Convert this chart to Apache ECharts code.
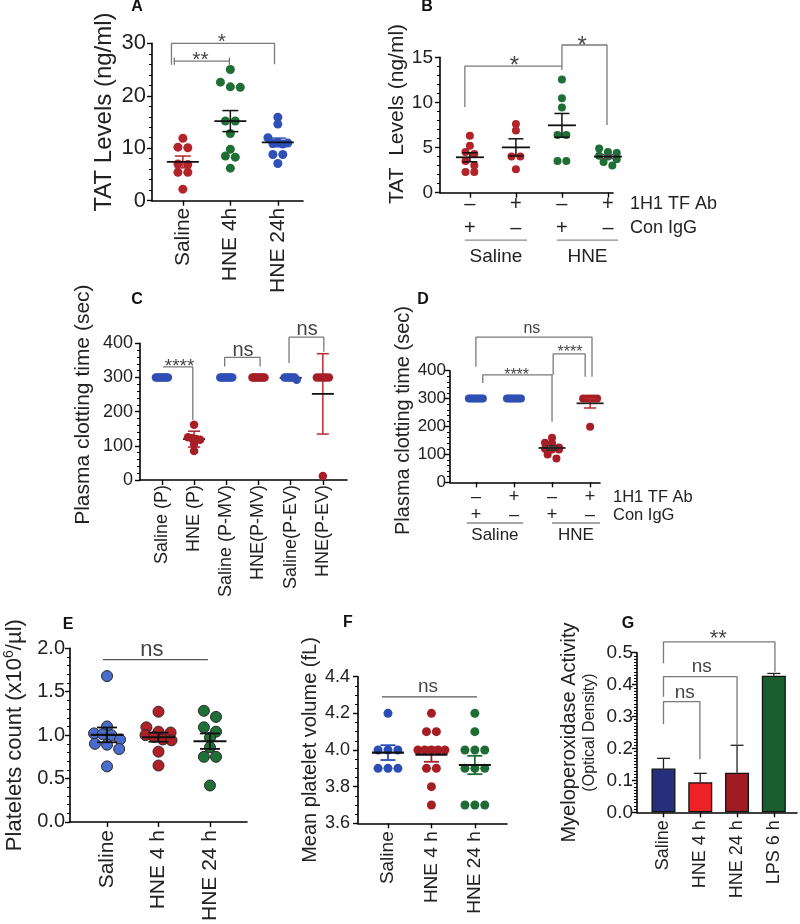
<!DOCTYPE html>
<html><head><meta charset="utf-8">
<script src="https://cdn.jsdelivr.net/npm/echarts@6/dist/echarts.min.js"></script>
<style>html,body{margin:0;padding:0;background:#fff}#c{width:800px;height:924px}</style>
</head><body><div id="c"></div>
<script>
// ---------------- DATA ----------------
const catsA = ['Saline', 'HNE 4h', 'HNE 24h'];
const tatA_saline = [11.9, 10.2, 10.1, 7.0, 6.9, 5.4, 5.4, 2.2];
const tatA_hne4h = [25.0, 22.6, 21.7, 21.6, 15.2, 15.2, 12.8, 9.8, 8.5, 8.3, 6.2];
const tatA_hne24h = [15.9, 14.6, 12.0, 11.1, 11.0, 10.9, 10.8, 8.8, 8.8, 7.1];

const abRow = ['–', '+', '–', '+'];
const igRow = ['+', '–', '+', '–'];
const rowNames = ['1H1 TF Ab', 'Con IgG'];
const groupNames = ['Saline', 'HNE'];
const tatB_salIgG = [6.3, 5.2, 4.5, 4.3, 3.5, 3.0, 2.3, 2.3];
const tatB_salAb = [7.6, 6.9, 4.0, 4.0, 2.6];
const tatB_hneIgG = [12.55, 10.45, 9.45, 6.4, 6.4, 3.5, 3.5];
const tatB_hneAb = [4.9, 4.5, 4.4, 4.1, 4.0, 3.7, 3.4, 3.0];

const catsC = ['Saline (P)', 'HNE (P)', 'Saline (P-MV)', 'HNE(P-MV)', 'Saline(P-EV)', 'HNE(P-EV)'];
const clotC_salP = [300, 300, 300, 300, 300, 300, 300, 300];
const clotC_hneP = [162, 125, 122, 120, 118, 105, 85];
const clotC_salMV = [300, 300, 300, 300, 300, 300, 300, 300];
const clotC_hneMV = [300, 300, 300, 300, 300, 300, 300, 300];
const clotC_salEV = [300, 300, 300, 300, 300, 300, 293];
const clotC_hneEV = [300, 300, 300, 300, 300, 12];

const clotD_salIgG = [300, 300, 300, 300, 300, 300, 300, 300];
const clotD_salAb = [300, 300, 300, 300, 300, 300, 300, 300];
const clotD_hneIgG = [160, 142, 140, 125, 120, 118, 118, 100, 85];
const clotD_hneAb = [300, 300, 300, 300, 300, 199];

const catsE = ['Saline', 'HNE 4 h', 'HNE 24 h'];
const pltE_saline = [1.68, 1.10, 1.02, 1.01, 1.00, 0.95, 0.90, 0.89, 0.84, 0.64];
const pltE_hne4h = [1.27, 1.09, 1.04, 1.03, 1.00, 0.98, 0.95, 0.94, 0.81, 0.65];
const pltE_hne24h = [1.28, 1.21, 1.09, 1.04, 0.97, 0.86, 0.75, 0.75, 0.42];

const catsF = ['Saline', 'HNE 4 h', 'HNE 24 h'];
const mpvF_saline = [4.2, 4.0, 4.0, 4.0, 3.9, 3.9, 3.9];
const mpvF_hne4h = [4.2, 4.1, 4.1, 4.0, 4.0, 4.0, 4.0, 4.0, 3.9, 3.9, 3.8, 3.7];
const mpvF_hne24h = [4.2, 4.1, 4.0, 4.0, 4.0, 3.9, 3.9, 3.9, 3.7, 3.7, 3.7];

const catsG = ['Saline', 'HNE 4 h', 'HNE 24 h', 'LPS 6 h'];
const mpoG = [0.137, 0.094, 0.124, 0.428];
const mpoErrG = [0.032, 0.028, 0.086, 0.007];

// significance annotations (data coordinates)
const sigA = [
  {path: [[-0.18, 25.9], [-0.18, 27.3], [-0.18, 26.6], [0.98, 26.6], [0.98, 27.3], [0.98, 25.9]], text: '**', tx: 0.37, ty: 27.9},
  {path: [[-0.24, 25.9], [-0.24, 30], [1.93, 30], [1.93, 26.0]], text: '*', tx: 0.82, ty: 31.3}
];
const sigB = [
  {path: [[-0.11, 9.5], [-0.11, 14.03], [2.0, 14.03], [2.0, 13.6]], text: '*', tx: 0.97, ty: 14.7},
  {path: [[2.0, 14.03], [2.0, 16.36], [2.98, 16.36], [2.98, 7.5]], text: '*', tx: 2.44, ty: 17.0}
];
const sigC = [
  {path: [[0.03, 331], [0.96, 331], [0.96, 176]], text: '****', tx: 0.55, ty: 346},
  {path: [[1.95, 332], [1.95, 359], [3.05, 359], [3.05, 332]], text: 'ns', tx: 2.52, ty: 380},
  {path: [[3.95, 342], [3.95, 418], [5.03, 418], [5.03, 375]], text: 'ns', tx: 4.51, ty: 439}
];
const sigD = [
  {path: [[0, 414], [0, 520], [3.05, 520], [3.05, 378]], text: 'ns', tx: 1.47, ty: 552},
  {path: [[0.18, 356], [0.18, 385], [2.0, 385], [2.0, 217]], text: '****', tx: 1.07, ty: 400},
  {path: [[2.03, 385], [2.03, 460], [2.87, 460], [2.87, 378]], text: '****', tx: 2.47, ty: 480}
];
const sigE = [{path: [[-0.08, 1.87], [1.96, 1.87]], text: 'ns', tx: 0.87, ty: 1.98}];
const sigF = [{path: [[-0.14, 4.29], [2.05, 4.29]], text: 'ns', tx: 0.92, ty: 4.345}];
const sigG = [
  {path: [[0, 0.276], [0, 0.347], [0.99, 0.347], [0.99, 0.166]], text: 'ns', tx: 0.58, ty: 0.375},
  {path: [[0, 0.362], [0, 0.425], [2.0, 0.425], [2.0, 0.211]], text: 'ns', tx: 1.04, ty: 0.456},
  {path: [[0, 0.467], [0, 0.534], [3.03, 0.534], [3.03, 0.44]], text: '**', tx: 1.49, ty: 0.561}
];

// ---------------- LAYOUT / STYLE ----------------
const FONT = '"Liberation Sans", Arial, sans-serif';
const L = {
  A: {i: 0, left: 152, top: 43.3, width: 151, height: 157.4, xmin: -0.65, xmax: 2.53, ymin: 0, ymax: 30, interval: 10, minor: 5},
  B: {i: 1, left: 440, top: 57.3, width: 173, height: 135.4, xmin: -0.65, xmax: 3.11, ymin: 0, ymax: 15, interval: 5, minor: 5},
  C: {i: 2, left: 140, top: 343.3, width: 207, height: 136.7, xmin: -0.68, xmax: 5.75, ymin: 0, ymax: 400, interval: 100, minor: 5},
  D: {i: 3, left: 450, top: 370.7, width: 150, height: 111.6, xmin: -0.68, xmax: 3.26, ymin: 0, ymax: 400, interval: 100, minor: 5},
  E: {i: 4, left: 70, top: 648.3, width: 177, height: 175, xmin: -0.72, xmax: 2.72, ymin: 0, ymax: 2, interval: 0.5, minor: 5},
  F: {i: 5, left: 358, top: 676.7, width: 149, height: 146.6, xmin: -0.69, xmax: 2.74, ymin: 3.6, ymax: 4.4, interval: 0.2, minor: 4},
  G: {i: 6, left: 637, top: 652.7, width: 160, height: 159.6, xmin: -0.72, xmax: 3.63, ymin: 0, ymax: 0.5, interval: 0.1, minor: 10}
};
function pxX(k) { return L[k].width / (L[k].xmax - L[k].xmin); }
function pxY(k) { return L[k].height / (L[k].ymax - L[k].ymin); }
function toPx(k, x) { return L[k].left + (x - L[k].xmin) * pxX(k); }
function toPy(k, y) { return L[k].top + (L[k].ymax - y) * pxY(k); }

const grids = [], xAxes = [], yAxes = [], S = [], G = [];

function axes(k, o) {
  const c = L[k];
  grids.push({left: c.left, top: c.top, width: c.width, height: c.height, containLabel: false});
  const idx = o.nCat ? Array.from({length: o.nCat}, (_, j) => j) : [];
  xAxes.push({
    type: 'value', gridIndex: c.i, min: c.xmin, max: c.xmax,
    axisLine: {show: true, onZero: false, lineStyle: {color: '#000', width: 1.6}},
    axisTick: {show: true, customValues: idx, length: 5, lineStyle: {color: '#000', width: 1.4}},
    axisLabel: Object.assign({show: true, customValues: idx, color: '#222', fontFamily: FONT}, o.xLabel),
    splitLine: {show: false}, minorTick: {show: false}
  });
  yAxes.push({
    type: 'value', gridIndex: c.i, min: c.ymin, max: c.ymax, interval: c.interval,
    axisLine: {show: true, onZero: false, lineStyle: {color: '#000', width: 1.6}},
    axisTick: {show: true, length: 5, lineStyle: {color: '#000', width: 1.4}},
    minorTick: {show: true, splitNumber: c.minor, length: 3, lineStyle: {color: '#000', width: 1}},
    axisLabel: {fontSize: o.yFont, margin: o.yMargin, color: '#222', fontFamily: FONT,
      formatter: o.yFmt || (v => String(v))},
    splitLine: {show: false}, minorSplitLine: {show: false},
    name: o.name, nameLocation: 'middle', nameRotate: 90, nameGap: o.nameGap,
    nameTextStyle: Object.assign({fontSize: o.nameFont, color: '#222', fontFamily: FONT,
      padding: [0, 0, 0, (o.nameShift || 0) * 2]}, o.nameExtra || {})
  });
}

function swarm(vals, py, px, diam, maxSpan) {
  const order = vals.map((v, i) => i).sort((a, b) => vals[b] - vals[a]);
  const rows = []; let cur = null;
  order.forEach(i => {
    if (cur && Math.abs(vals[cur[0]] - vals[i]) * py < diam * 0.6) cur.push(i);
    else { cur = [i]; rows.push(cur); }
  });
  const off = new Array(vals.length).fill(0);
  rows.forEach(r => {
    const n = r.length;
    const sp = n > 1 ? Math.min(diam * 1.1, maxSpan / (n - 1)) : 0;
    r.forEach((i, j) => { off[i] = (j - (n - 1) / 2) * sp / px; });
  });
  return off;
}

function dots(k, groups, o) {
  groups.forEach((g, gi) => {
    const offs = swarm(g.vals, pxY(k), pxX(k), o.size, o.maxSpan);
    S.push({
      type: 'scatter', xAxisIndex: L[k].i, yAxisIndex: L[k].i, symbolSize: o.size, z: 3, clip: false,
      silent: true, animation: false,
      itemStyle: {color: g.color, opacity: 1, borderColor: o.border || g.color, borderWidth: o.border ? 1 : 0},
      data: g.vals.map((v, j) => [gi + offs[j], v])
    });
  });
  // mean and error bars
  const rowsData = [], errCols = [];
  groups.forEach((g, gi) => {
    const n = g.vals.length;
    const m = g.vals.reduce((a, b) => a + b, 0) / n;
    const sd = Math.sqrt(g.vals.reduce((a, b) => a + (b - m) * (b - m), 0) / (n - 1));
    if (sd === 0) return;
    const e = o.useSD ? sd : sd / Math.sqrt(n);
    rowsData.push([gi, m, m - e, m + e]);
    errCols.push(g.err);
  });
  S.push({
    type: 'custom', xAxisIndex: L[k].i, yAxisIndex: L[k].i, z: o.meanBelow ? 2 : 5, silent: true, animation: false,
    data: rowsData,
    renderItem: (params, api) => {
      const x = api.value(0);
      const pm = api.coord([x, api.value(1)]);
      const pl = api.coord([x, api.value(2)]);
      const ph = api.coord([x, api.value(3)]);
      const ec = errCols[params.dataIndex];
      const lw = o.lw || 1.5;
      return {type: 'group', children: [
        {type: 'line', shape: {x1: pl[0], y1: pl[1], x2: ph[0], y2: ph[1]}, style: {stroke: ec, lineWidth: lw}},
        {type: 'line', shape: {x1: pl[0] - o.capW / 2, y1: pl[1], x2: pl[0] + o.capW / 2, y2: pl[1]}, style: {stroke: ec, lineWidth: lw}},
        {type: 'line', shape: {x1: ph[0] - o.capW / 2, y1: ph[1], x2: ph[0] + o.capW / 2, y2: ph[1]}, style: {stroke: ec, lineWidth: lw}},
        {type: 'line', shape: {x1: pm[0] - o.meanW / 2, y1: pm[1], x2: pm[0] + o.meanW / 2, y2: pm[1]}, style: {stroke: o.meanColor || '#111', lineWidth: lw + 0.3}}
      ]};
    }
  });
}

function sig(k, list, o) {
  list.forEach(b => {
    S.push({type: 'line', xAxisIndex: L[k].i, yAxisIndex: L[k].i, data: b.path, symbol: 'none', clip: false,
      silent: true, animation: false, z: 2, lineStyle: {color: o.color || '#7a7a7a', width: o.width || 1.3}});
    const star = b.text.indexOf('*') >= 0;
    const fs = star ? o.starFont : o.nsFont;
    S.push({type: 'scatter', xAxisIndex: L[k].i, yAxisIndex: L[k].i, symbolSize: 1, clip: false, silent: true,
      animation: false, z: 6, itemStyle: {color: 'rgba(0,0,0,0)'}, data: [[b.tx, b.ty]],
      label: {show: true, position: 'inside', formatter: b.text, fontSize: fs, fontFamily: FONT, color: '#111',
        offset: [0, star ? fs * 0.28 : 0]}});
  });
}

const catFmt = cats => (v => cats[Math.round(v)]);

// ---- Panel A ----
axes('A', {nCat: 3, xLabel: {formatter: catFmt(catsA), rotate: 90, margin: 7, fontSize: 21},
  yFont: 22, yMargin: 6, name: 'TAT Levels (ng/ml)', nameFont: 24, nameGap: 36, nameShift: 10});
dots('A', [
  {vals: tatA_saline, color: '#b3242a', err: '#b3242a'},
  {vals: tatA_hne4h, color: '#1f6e35', err: '#111'},
  {vals: tatA_hne24h, color: '#2f50b8', err: '#2f50b8'}
], {size: 9, maxSpan: 30, meanW: 32, capW: 16});
sig('A', sigA, {starFont: 21, nsFont: 18});

// ---- Panel B ----
axes('B', {nCat: 4, xLabel: {formatter: v => `{r|${abRow[Math.round(v)]}}\n{r|${igRow[Math.round(v)]}}`,
    margin: 0, rich: {r: {fontSize: 20, lineHeight: 24, fontFamily: FONT, color: '#222'}}},
  yFont: 19, yMargin: 7, name: 'TAT  Levels (ng/ml)', nameFont: 21, nameGap: 31, nameShift: 11});
dots('B', [
  {vals: tatB_salIgG, color: '#b3242a', err: '#111'},
  {vals: tatB_salAb, color: '#b3242a', err: '#111'},
  {vals: tatB_hneIgG, color: '#1f6e35', err: '#111'},
  {vals: tatB_hneAb, color: '#1f6e35', err: '#555'}
], {size: 8, maxSpan: 26, meanW: 28, capW: 15});
sig('B', sigB, {starFont: 24, nsFont: 18});

// ---- Panel C ----
axes('C', {nCat: 6, xLabel: {formatter: catFmt(catsC), rotate: 90, margin: 5, fontSize: 18},
  yFont: 18, yMargin: 7, name: 'Plasma clotting time (sec)', nameFont: 21, nameGap: 46, nameShift: 7});
dots('C', [
  {vals: clotC_salP, color: '#2f4fb5', err: '#2f4fb5'},
  {vals: clotC_hneP, color: '#a81e26', err: '#a81e26'},
  {vals: clotC_salMV, color: '#2f4fb5', err: '#2f4fb5'},
  {vals: clotC_hneMV, color: '#a81e26', err: '#a81e26'},
  {vals: clotC_salEV, color: '#2f4fb5', err: '#2f4fb5'},
  {vals: clotC_hneEV, color: '#a81e26', err: '#c0272d'}
], {size: 8.5, maxSpan: 12, meanW: 22, capW: 12, useSD: true, meanBelow: true});
sig('C', sigC, {starFont: 19, nsFont: 20});

// ---- Panel D ----
axes('D', {nCat: 4, xLabel: {formatter: v => `{r|${abRow[Math.round(v)]}}\n{r|${igRow[Math.round(v)]}}`,
    margin: 5.5, rich: {r: {fontSize: 18, lineHeight: 18, fontFamily: FONT, color: '#222'}}},
  yFont: 17, yMargin: 4, name: 'Plasma clotting time (sec)', nameFont: 20, nameGap: 36, nameShift: 6});
dots('D', [
  {vals: clotD_salIgG, color: '#2f4fb5', err: '#2f4fb5'},
  {vals: clotD_salAb, color: '#2f4fb5', err: '#2f4fb5'},
  {vals: clotD_hneIgG, color: '#a81e26', err: '#333'},
  {vals: clotD_hneAb, color: '#a81e26', err: '#c0272d'}
], {size: 8, maxSpan: 14, meanW: 27, capW: 12, meanColor: '#222'});
sig('D', sigD, {starFont: 16, nsFont: 16});

// ---- Panel E ----
axes('E', {nCat: 3, xLabel: {formatter: catFmt(catsE), rotate: 90, margin: 8, fontSize: 21},
  yFont: 20, yMargin: 5, yFmt: v => v.toFixed(1),
  name: '{b|Platelets count (x10}{s|6}{b|/µl)}', nameFont: 22, nameGap: 42, nameShift: 0,
  nameExtra: {rich: {b: {fontSize: 22, fontFamily: FONT, color: '#222', lineHeight: 26},
                     s: {fontSize: 14, fontFamily: FONT, color: '#222', verticalAlign: 'top', lineHeight: 14}}}});
dots('E', [
  {vals: pltE_saline, color: '#4a6ccc', err: '#111'},
  {vals: pltE_hne4h, color: '#b02028', err: '#111'},
  {vals: pltE_hne24h, color: '#1f7037', err: '#111'}
], {size: 11, maxSpan: 26, meanW: 33, capW: 20, border: '#2a2a2a', lw: 1.8});
sig('E', sigE, {starFont: 20, nsFont: 22, color: '#555'});

// ---- Panel F ----
axes('F', {nCat: 3, xLabel: {formatter: catFmt(catsF), rotate: 90, margin: 8, fontSize: 19},
  yFont: 18, yMargin: 8, yFmt: v => v.toFixed(1), name: 'Mean platelet volume (fL)', nameFont: 20, nameGap: 38});
dots('F', [
  {vals: mpvF_saline, color: '#2c4db5', err: '#2c4db5'},
  {vals: mpvF_hne4h, color: '#a51d25', err: '#a51d25'},
  {vals: mpvF_hne24h, color: '#1f6b35', err: '#1f6b35'}
], {size: 9, maxSpan: 27, meanW: 32, capW: 15, lw: 1.8});
sig('F', sigF, {starFont: 19, nsFont: 19, color: '#555'});

// ---- Panel G ----
axes('G', {nCat: 4, xLabel: {formatter: catFmt(catsG), rotate: 90, margin: 8, fontSize: 18},
  yFont: 19, yMargin: 4, yFmt: v => v.toFixed(1),
  name: '{a|Myeloperoxidase Activity}\n{b|(Optical Density)}', nameFont: 20, nameGap: 37,
  nameExtra: {rich: {a: {fontSize: 20, lineHeight: 21, fontFamily: FONT, color: '#222'},
                     b: {fontSize: 16, lineHeight: 20, fontFamily: FONT, color: '#222'}}}});
const gColors = ['#262f7d', '#ec2227', '#a01c24', '#1b5e2e'];
S.push({
  type: 'bar', xAxisIndex: 6, yAxisIndex: 6, barWidth: 24, animation: false, silent: true, z: 3,
  data: mpoG.map((v, j) => ({value: [j, v], itemStyle: {color: gColors[j], borderColor: '#111', borderWidth: 1.3}}))
});
S.push({
  type: 'custom', xAxisIndex: 6, yAxisIndex: 6, z: 2, silent: true, animation: false,
  data: mpoG.map((v, j) => [j, v, v + mpoErrG[j]]),
  renderItem: (params, api) => {
    const p0 = api.coord([api.value(0), api.value(1)]);
    const p1 = api.coord([api.value(0), api.value(2)]);
    return {type: 'group', children: [
      {type: 'line', shape: {x1: p0[0], y1: p0[1], x2: p1[0], y2: p1[1]}, style: {stroke: '#222', lineWidth: 1.3}},
      {type: 'line', shape: {x1: p1[0] - 6.5, y1: p1[1], x2: p1[0] + 6.5, y2: p1[1]}, style: {stroke: '#222', lineWidth: 1.3}}
    ]};
  }
});
sig('G', sigG, {starFont: 22, nsFont: 19});

// ---------------- graphic annotations ----------------
const letters = [['A', 137, 7], ['B', 427, 7], ['C', 137, 300], ['D', 423, 300], ['E', 68, 625], ['F', 348, 623], ['G', 628, 624]];
letters.forEach(([t, x, y]) => G.push({type: 'text', silent: true, style: {x, y, text: t, font: 'bold 16px ' + FONT, fill: '#111', textAlign: 'center', textVerticalAlign: 'middle'}}));

function groupLabels(k, cfg) {
  const c = L[k];
  const axisY = c.top + c.height;
  const right = c.left + c.width;
  rowNames.forEach((t, j) => G.push({type: 'text', silent: true, style: {x: right + cfg.rowDx, y: axisY + cfg.row1 + j * cfg.rowGap,
    text: t, font: cfg.rowFont + 'px ' + FONT, fill: '#222', textAlign: 'left', textVerticalAlign: 'middle'}}));
  cfg.spans.forEach((s, j) => {
    const x1 = toPx(k, s[0]), x2 = toPx(k, s[1]);
    G.push({type: 'line', silent: true, shape: {x1, y1: axisY + cfg.lineDy, x2, y2: axisY + cfg.lineDy}, style: {stroke: '#8a8a8a', lineWidth: 1.3}});
    G.push({type: 'text', silent: true, style: {x: (x1 + x2) / 2, y: axisY + cfg.nameDy, text: groupNames[j],
      font: cfg.nameFont + 'px ' + FONT, fill: '#222', textAlign: 'center', textVerticalAlign: 'middle'}});
  });
}
groupLabels('B', {rowDx: 17, row1: 11.5, rowGap: 24, rowFont: 18, lineDy: 47.5, nameDy: 64.5, nameFont: 19,
  spans: [[-0.11, 1.24], [1.89, 3.22]]});
groupLabels('D', {rowDx: 13, row1: 14.7, rowGap: 18, rowFont: 16.5, lineDy: 40.7, nameDy: 52.7, nameFont: 17,
  spans: [[-0.24, 1.24], [2.0, 3.26]]});

const chart = echarts.init(document.getElementById('c'), null, {renderer: 'canvas', width: 800, height: 924});
chart.setOption({
  animation: false, backgroundColor: '#fff',
  textStyle: {fontFamily: FONT},
  grid: grids, xAxis: xAxes, yAxis: yAxes, series: S, graphic: G
});
</script></body></html>
